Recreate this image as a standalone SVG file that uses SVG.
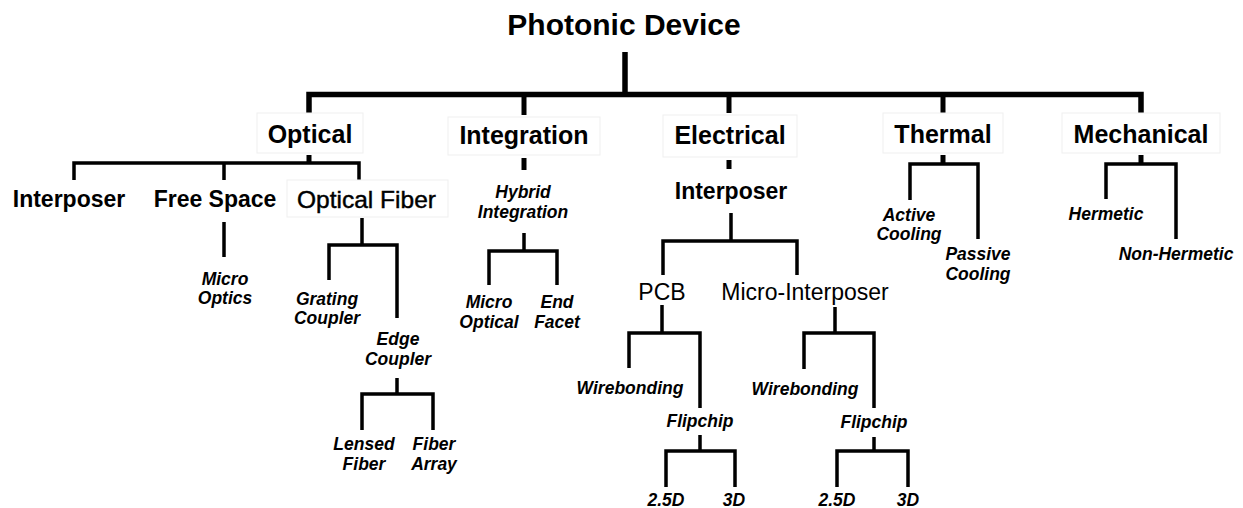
<svg xmlns="http://www.w3.org/2000/svg" width="1243" height="508" viewBox="0 0 1243 508">
<style>
text{font-family:"Liberation Sans",Arial,Helvetica,sans-serif;fill:#000;text-anchor:middle}
.t0{font-size:30px;font-weight:bold}
.t1{font-size:25px;font-weight:bold}
.t2{font-size:23px;font-weight:bold}
.tm{font-size:24.5px;stroke:#000;stroke-width:0.45}
.tr{font-size:23px}
.ti{font-size:17.5px;font-weight:bold;font-style:italic}
.box{fill:#fff;stroke:#efefef;stroke-width:1}
.thick{fill:none;stroke:#000;stroke-width:5.5;stroke-linejoin:miter}
.mid{fill:none;stroke:#000;stroke-width:5}
.thin{fill:none;stroke:#000;stroke-width:3.5;stroke-linejoin:miter}
</style>
<rect width="1243" height="508" fill="#fff"/>
<g id="connectors">
  <path class="thick" d="M625,52 V94.5"/>
  <path class="thick" d="M309,113 V94.5 H1141 V113"/>
  <path class="mid" d="M524,94.5 V115 M729,94.5 V113 M943,94.5 V113"/>
  <path class="mid" d="M309,155 V163 M524,158 V170 M729,160 V169 M943,155 V164 M1141,155 V165"/>
  <path class="thin" d="M74,180 V163 H359 V180 M224,163 V180"/>
  <path class="thin" d="M224,222 V257"/>
  <path class="thin" d="M362,218 V245 M329,280 V245 H397 V318"/>
  <path class="thin" d="M397,378 V394 M362,430 V394 H433 V430"/>
  <path class="thin" d="M524,233 V251 M489,285 V251 H557 V285"/>
  <path class="thin" d="M731,213 V241 M663,275 V241 H797 V275"/>
  <path class="thin" d="M662,305 V333 M629,368 V333 H700 V408"/>
  <path class="thin" d="M700,435 V451 M666,487 V451 H735 V487"/>
  <path class="thin" d="M835,307 V333 M804,369 V333 H874 V408"/>
  <path class="thin" d="M874,437 V451 M837,487 V451 H908 V487"/>
  <path class="thin" d="M910,200 V164 H978 V239"/>
  <path class="thin" d="M1106,199 V164 H1176 V239"/>
</g>
<g id="n-photonic"><text class="t0" x="624" y="35">Photonic Device</text></g>
<g id="n-optical"><rect class="box" x="257" y="113" width="106" height="40"/><text class="t1" x="310" y="143">Optical</text></g>
<g id="n-integration"><rect class="box" x="448" y="117" width="152" height="38"/><text class="t1" x="524" y="144">Integration</text></g>
<g id="n-electrical"><rect class="box" x="663" y="115" width="134" height="42"/><text class="t1" x="730" y="144">Electrical</text></g>
<g id="n-thermal"><rect class="box" x="883" y="113" width="120" height="40"/><text class="t1" x="943" y="143">Thermal</text></g>
<g id="n-mechanical"><rect class="box" x="1062" y="113" width="158" height="40"/><text class="t1" x="1141" y="143">Mechanical</text></g>
<g id="n-interposer-opt"><text class="t2" x="69" y="207">Interposer</text></g>
<g id="n-freespace"><text class="t2" x="215" y="207">Free Space</text></g>
<g id="n-opticalfiber"><rect class="box" x="287" y="180" width="161" height="37"/><text class="tm" x="366.5" y="208">Optical Fiber</text></g>
<g id="n-microoptics"><text class="ti" x="225" y="285">Micro</text><text class="ti" x="225" y="304">Optics</text></g>
<g id="n-grating"><text class="ti" x="327" y="305">Grating</text><text class="ti" x="327" y="324">Coupler</text></g>
<g id="n-edge"><text class="ti" x="398" y="345">Edge</text><text class="ti" x="398" y="365">Coupler</text></g>
<g id="n-lensed"><text class="ti" x="364" y="450">Lensed</text><text class="ti" x="364" y="470">Fiber</text></g>
<g id="n-fiberarray"><text class="ti" x="434" y="450">Fiber</text><text class="ti" x="434" y="470">Array</text></g>
<g id="n-hybrid"><text class="ti" x="523" y="198">Hybrid</text><text class="ti" x="523" y="218">Integration</text></g>
<g id="n-microoptical"><text class="ti" x="489" y="308">Micro</text><text class="ti" x="489" y="328">Optical</text></g>
<g id="n-endfacet"><text class="ti" x="557" y="308">End</text><text class="ti" x="557" y="328">Facet</text></g>
<g id="n-interposer-el"><text class="t2" x="731" y="199">Interposer</text></g>
<g id="n-pcb"><text class="tr" x="662" y="300">PCB</text></g>
<g id="n-microinterposer"><text class="tr" x="805" y="300">Micro-Interposer</text></g>
<g id="n-wb1"><text class="ti" x="630" y="394">Wirebonding</text></g>
<g id="n-fc1"><text class="ti" x="700" y="427">Flipchip</text></g>
<g id="n-25d1"><text class="ti" x="666" y="506">2.5D</text></g>
<g id="n-3d1"><text class="ti" x="734" y="506">3D</text></g>
<g id="n-wb2"><text class="ti" x="805" y="395">Wirebonding</text></g>
<g id="n-fc2"><text class="ti" x="874" y="428">Flipchip</text></g>
<g id="n-25d2"><text class="ti" x="837" y="506">2.5D</text></g>
<g id="n-3d2"><text class="ti" x="908" y="506">3D</text></g>
<g id="n-active"><text class="ti" x="909" y="221">Active</text><text class="ti" x="909" y="240">Cooling</text></g>
<g id="n-passive"><text class="ti" x="978" y="260">Passive</text><text class="ti" x="978" y="280">Cooling</text></g>
<g id="n-hermetic"><text class="ti" x="1106" y="220">Hermetic</text></g>
<g id="n-nonhermetic"><text class="ti" x="1176" y="260">Non-Hermetic</text></g>
</svg>
